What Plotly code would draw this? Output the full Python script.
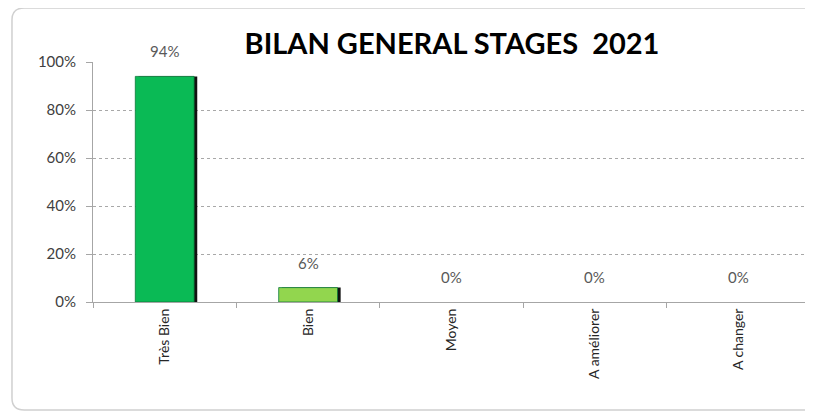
import plotly.graph_objects as go

categories = ["Très Bien", "Bien", "Moyen", "A améliorer", "A changer"]
values = [0.94, 0.06, 0.0, 0.0, 0.0]
labels = ["94%", "6%", "0%", "0%", "0%"]
bar_colors = ["#0ABA55", "#92D64E", "#0ABA55", "#0ABA55", "#0ABA55"]
y_ticks = [0, 0.2, 0.4, 0.6, 0.8, 1.0]
y_tick_labels = ["0%", "20%", "40%", "60%", "80%", "100%"]

FONT = "Lato, Calibri, 'Liberation Sans', sans-serif"
BAR_W = 0.41
edge_widths = [0.8 if v > 0 else 0 for v in values]

fig = go.Figure()
# shadow
fig.add_trace(go.Bar(
    x=categories, y=values, width=BAR_W, offset=-BAR_W / 2 + 0.022,
    marker=dict(color="#111111", line=dict(width=0)),
    hoverinfo="skip",
))
fig.add_trace(go.Bar(
    x=categories, y=values, width=BAR_W, offset=-BAR_W / 2,
    marker=dict(color=bar_colors, line=dict(color="#0A7A3A", width=edge_widths)),
    hoverinfo="skip",
))

for c, v, t in zip(categories, values, labels):
    fig.add_annotation(x=c, y=v, text=t, showarrow=False, yanchor="middle",
                       yshift=25, font=dict(family=FONT, size=15, color="#595959"))

# chart border (rounded left corners)
x0, x1, y0, y1 = -0.113, 1.02, -0.45, 1.225
rx, ry = 0.017, 0.05
path = (f"M {x1},{y1} L {x0+rx},{y1} Q {x0},{y1} {x0},{y1-ry} "
        f"L {x0},{y0+ry} Q {x0},{y0} {x0+rx},{y0} L {x1},{y0}")
fig.add_shape(type="path", path=path, xref="paper", yref="paper",
              line=dict(color="#D0D0D0", width=1.5))

W, H = 805, 405
fig.update_layout(
    width=W, height=H,
    margin=dict(l=85, r=W - 802, t=54, b=H - 294),
    paper_bgcolor="white", plot_bgcolor="white",
    showlegend=False,
    barmode="overlay",
    title=dict(text="<b>BILAN GENERAL STAGES  2021</b>", x=(452 - 8) / W, xanchor="center",
               y=1 - 36 / H, yanchor="middle",
               font=dict(family=FONT, size=29, color="#000000")),
    font=dict(family=FONT, size=14, color="#404040"),
)
fig.update_xaxes(
    tickangle=-90, showline=True, linecolor="#A6A6A6", linewidth=1,
    ticks="outside", tickson="boundaries", ticklen=5, tickcolor="#A6A6A6",
    tickfont=dict(family=FONT, size=14, color="#262626"),
    showgrid=False,
)
fig.update_yaxes(
    range=[0, 1.0], tickvals=y_ticks, ticktext=y_tick_labels,
    showline=True, linecolor="#A6A6A6", linewidth=1,
    ticks="outside", ticklen=6, tickcolor="#A6A6A6", ticklabelstandoff=7,
    showgrid=True, gridcolor="#A8A8A8", griddash="dot", gridwidth=1,
    tickfont=dict(family=FONT, size=15, color="#404040"),
    zeroline=False,
)

fig.write_html("out.html")
